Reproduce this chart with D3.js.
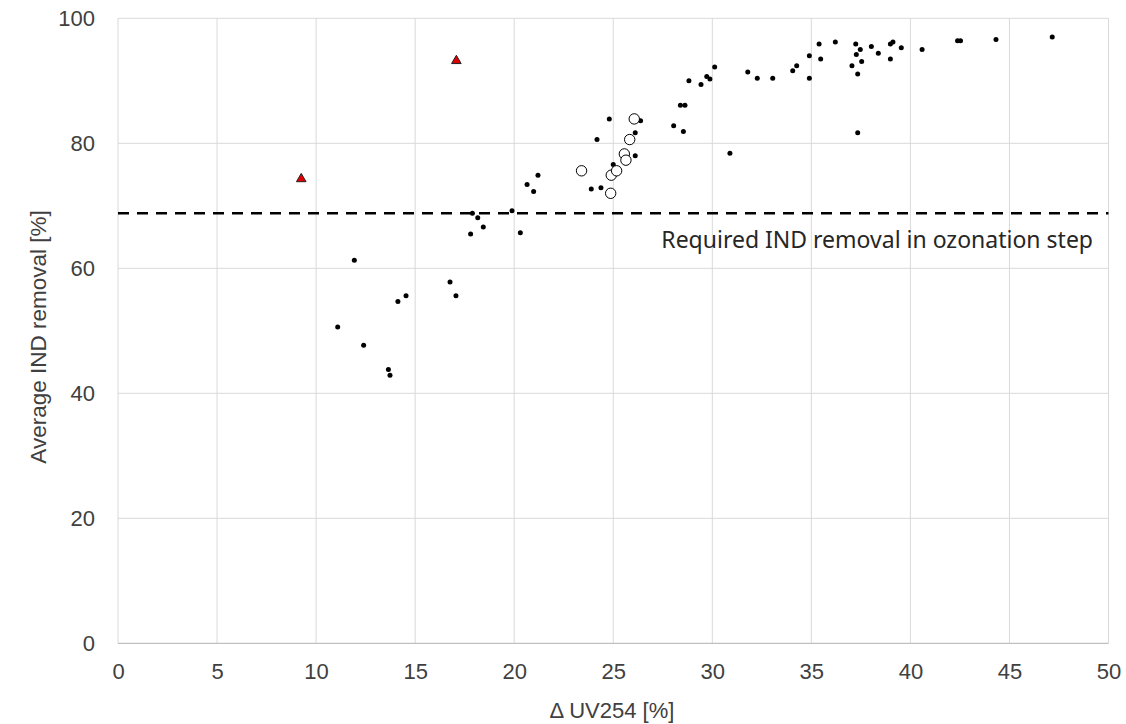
<!DOCTYPE html>
<html><head><meta charset="utf-8">
<script src="https://cdn.jsdelivr.net/npm/d3@7"></script>
<style>body{margin:0;background:#fff}svg text{font-family:"Liberation Sans",Arial,sans-serif}</style>
</head><body><svg id="c" width="1126" height="724"></svg>
<script>
// Regular measurements (black dots)
const dotsX = [17.89,18.16,18.44,17.80,11.93,16.76,17.06,11.09,14.54,14.13,12.40,13.65,13.73,
  19.89,20.31,20.65,20.98,21.20,23.89,24.38,24.18,24.80,25.00,26.11,26.11,26.38,28.05,28.54,28.39,28.62,
  28.82,29.43,29.72,29.88,30.12,30.89,31.79,32.27,33.05,34.06,34.26,34.90,34.90,35.39,35.47,36.21,
  37.24,37.47,37.27,37.05,37.54,37.34,37.34,38.03,38.38,38.99,39.12,38.99,39.54,40.59,42.38,42.53,44.32,47.16];
const dotsY = [68.8,68.1,66.6,65.5,61.3,57.8,55.6,50.6,55.6,54.7,47.7,43.8,42.9,
  69.2,65.7,73.4,72.3,74.9,72.7,72.9,80.6,83.9,76.6,81.7,78.0,83.6,82.8,81.9,86.1,86.1,
  90.0,89.4,90.7,90.3,92.2,78.4,91.4,90.4,90.4,91.6,92.4,94.0,90.4,95.9,93.5,96.2,
  95.9,95.0,94.2,92.4,93.1,91.1,81.7,95.5,94.4,95.9,96.2,93.5,95.3,95.0,96.4,96.4,96.6,97.0];
// Open circles
const openX = [23.40,24.87,24.90,25.17,25.56,25.64,25.83,26.06];
const openY = [75.6,72.0,74.9,75.6,78.3,77.3,80.6,83.9];
// Red triangles
const triX = [17.08,9.25];
const triY = [93.2,74.3];
// Threshold
const requiredRemoval = 68.8;
const thresholdLabel = "Required IND removal in ozonation step";
const xTicks = [0,5,10,15,20,25,30,35,40,45,50];
const yTicks = [0,20,40,60,80,100];
const xTitle = "Δ UV254 [%]";
const yTitle = "Average IND removal [%]";

const svg = d3.select("#c");
const x = d3.scaleLinear().domain([0,50]).range([118,1108.5]);
const y = d3.scaleLinear().domain([0,100]).range([643.3,18.3]);

// gridlines
svg.append("g").selectAll("line").data(xTicks).join("line")
  .attr("x1",d=>x(d)).attr("x2",d=>x(d)).attr("y1",y(0)).attr("y2",y(100))
  .attr("stroke","#d9d9d9").attr("stroke-width",1);
svg.append("g").selectAll("line").data(yTicks.filter(d=>d>0)).join("line")
  .attr("x1",x(0)).attr("x2",x(50)).attr("y1",d=>y(d)).attr("y2",d=>y(d))
  .attr("stroke","#d9d9d9").attr("stroke-width",1);
svg.append("line").attr("x1",x(0)).attr("x2",x(50)).attr("y1",y(0)).attr("y2",y(0))
  .attr("stroke","#bfbfbf").attr("stroke-width",1.3);

// axes tick labels
const xa = svg.append("g").attr("transform",`translate(0,${y(0)})`)
  .call(d3.axisBottom(x).tickValues(xTicks).tickSize(0).tickPadding(20));
xa.select(".domain").remove();
xa.selectAll("text").attr("font-size",22).attr("fill","#404040").style("font-family","Liberation Sans, Arial, sans-serif");
const ya = svg.append("g").attr("transform",`translate(${x(0)},0)`)
  .call(d3.axisLeft(y).tickValues(yTicks).tickSize(0).tickPadding(23));
ya.select(".domain").remove();
ya.selectAll("text").attr("font-size",22).attr("fill","#404040").style("font-family","Liberation Sans, Arial, sans-serif");

// titles
svg.append("text").attr("x",612).attr("y",718).attr("text-anchor","middle")
  .attr("font-size",22).attr("fill","#404040").text(xTitle);
svg.append("text").attr("transform","translate(46,337) rotate(-90)").attr("text-anchor","middle")
  .attr("font-size",22.5).attr("fill","#404040").text(yTitle);

// threshold line
svg.append("line").attr("x1",x(0)).attr("x2",x(50)).attr("y1",y(requiredRemoval)).attr("y2",y(requiredRemoval))
  .attr("stroke","#000").attr("stroke-width",2.5).attr("stroke-dasharray","11,8");
svg.append("text").attr("x",1093).attr("y",248).attr("text-anchor","end")
  .style("font-family","'Noto Sans', sans-serif").attr("font-size",23).attr("fill","#262626").text(thresholdLabel);

// dots
svg.append("g").selectAll("circle").data(dotsX.map((d,i)=>[d,dotsY[i]])).join("circle")
  .attr("cx",d=>x(d[0])).attr("cy",d=>y(d[1])).attr("r",2.5).attr("fill","#000");
svg.append("g").selectAll("circle").data(openX.map((d,i)=>[d,openY[i]])).join("circle")
  .attr("cx",d=>x(d[0])).attr("cy",d=>y(d[1])).attr("r",5.2).attr("fill","#fff").attr("stroke","#000").attr("stroke-width",1);
const tri = d3.symbol().type(d3.symbolTriangle).size(40);
svg.append("g").selectAll("path").data(triX.map((d,i)=>[d,triY[i]])).join("path")
  .attr("d",tri).attr("transform",d=>`translate(${x(d[0])},${y(d[1])})`)
  .attr("fill","#e00000").attr("stroke","#222").attr("stroke-width",1);
</script></body></html>
